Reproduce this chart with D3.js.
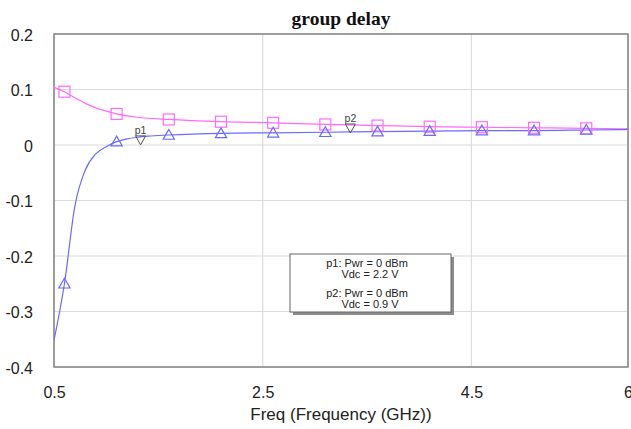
<!DOCTYPE html>
<html>
<head>
<meta charset="utf-8">
<script src="https://cdn.jsdelivr.net/npm/d3@7"></script>
<style>
  html, body { margin: 0; padding: 0; background: #fff; }
  svg { display: block; }
</style>
</head>
<body>
<svg id="chart" width="631" height="429"></svg>
<script>
// Group delay vs frequency, two bias points
const freqBlue = [0.5, 0.6, 0.7, 0.8, 0.9, 1.0, 1.1, 1.2, 1.3, 1.4, 1.6, 2.1, 2.6, 3.1, 3.6, 4.1, 4.6, 5.1, 5.6, 6.0];
const delayBlue = [-0.352, -0.25, -0.11, -0.045, -0.016, -0.003, 0.006, 0.011, 0.014, 0.016, 0.018, 0.021, 0.022, 0.023, 0.024, 0.025, 0.026, 0.026, 0.027, 0.028];

const freqPink = [0.5, 0.6, 0.7, 0.8, 0.9, 1.0, 1.1, 1.3, 1.6, 2.1, 2.6, 3.1, 3.6, 4.1, 4.6, 5.1, 5.6, 6.0];
const delayPink = [0.104, 0.096, 0.085, 0.075, 0.067, 0.061, 0.056, 0.050, 0.046, 0.042, 0.040, 0.037, 0.035, 0.033, 0.032, 0.031, 0.030, 0.029];

// symbol positions along each trace
const markerFreqs = [0.6, 1.1, 1.6, 2.1, 2.6, 3.1, 3.6, 4.1, 4.6, 5.1, 5.6];

const xTicks = [0.5, 2.5, 4.5, 6];
const xTickLabels = ["0.5", "2.5", "4.5", "6"];
const yTicks = [0.2, 0.1, 0, -0.1, -0.2, -0.3, -0.4];
const yTickLabels = ["0.2", "0.1", "0", "-0.1", "-0.2", "-0.3", "-0.4"];

// trace markers: name, frequency, which trace
const markerNames = ["p1", "p2"];
const markerFreq = [1.33, 3.34];
const markerTrace = ["blue", "pink"];

const legendLines = [["p1: Pwr = 0 dBm", "Vdc = 2.2 V"], ["p2: Pwr = 0 dBm", "Vdc = 0.9 V"]];

const blueCol = "#6a6aff";
const pinkCol = "#ff6aff";

const svg = d3.select("#chart");
const m = { left: 54, right: 3, top: 34, bottom: 62 };
const W = 631, H = 429;
const x = d3.scaleLinear().domain([0.5, 6]).range([m.left, W - m.right]);
const y = d3.scaleLinear().domain([-0.4, 0.2]).range([H - m.bottom, m.top]);

// gridlines
const g = svg.append("g");
g.selectAll("line.hg").data(yTicks).join("line")
  .attr("x1", x(0.5)).attr("x2", x(6))
  .attr("y1", d => y(d)).attr("y2", d => y(d))
  .attr("stroke", "#dcdcdc").attr("stroke-width", 1.2);
g.selectAll("line.vg").data(xTicks).join("line")
  .attr("x1", d => x(d)).attr("x2", d => x(d))
  .attr("y1", y(0.2)).attr("y2", y(-0.4))
  .attr("stroke", "#dcdcdc").attr("stroke-width", 1.2);

// frame
svg.append("rect")
  .attr("x", x(0.5)).attr("y", y(0.2))
  .attr("width", x(6) - x(0.5)).attr("height", y(-0.4) - y(0.2))
  .attr("fill", "none").attr("stroke", "#8a8a8a").attr("stroke-width", 1.6);

// axes (labels only, frame drawn above)
const xAxis = d3.axisBottom(x).tickValues(xTicks)
  .tickFormat((d, i) => xTickLabels[i]).tickSize(0).tickPadding(20);
svg.append("g").attr("transform", `translate(0,${y(-0.4)})`).call(xAxis)
  .call(a => a.select(".domain").remove())
  .selectAll("text").attr("font-family", "Liberation Sans, Arial, sans-serif")
  .attr("font-size", 16).attr("fill", "#222");

const yAxis = d3.axisLeft(y).tickValues(yTicks)
  .tickFormat((d, i) => yTickLabels[i]).tickSize(0).tickPadding(21);
svg.append("g").attr("transform", `translate(${x(0.5)},1)`).call(yAxis)
  .call(a => a.select(".domain").remove())
  .selectAll("text").attr("font-family", "Liberation Sans, Arial, sans-serif")
  .attr("font-size", 16).attr("fill", "#222");

// title
svg.append("text").attr("x", 341).attr("y", 25).attr("text-anchor", "middle")
  .attr("font-family", "Liberation Serif, Times New Roman, serif")
  .attr("font-weight", "bold").attr("font-size", 19.5).attr("fill", "#111")
  .text("group delay");

// x axis title
svg.append("text").attr("x", 341).attr("y", 420).attr("text-anchor", "middle")
  .attr("font-family", "Liberation Sans, Arial, sans-serif")
  .attr("font-size", 17).attr("fill", "#222")
  .text("Freq (Frequency (GHz))");

// traces
svg.append("clipPath").attr("id", "clip").append("rect")
  .attr("x", x(0.5)).attr("y", y(0.2))
  .attr("width", x(6) - x(0.5)).attr("height", y(-0.4) - y(0.2));

const blueData = freqBlue.map((f, i) => [f, delayBlue[i]]);
const pinkData = freqPink.map((f, i) => [f, delayPink[i]]);
const line = d3.line().x(d => x(d[0])).y(d => y(d[1])).curve(d3.curveMonotoneX);

const plot = svg.append("g").attr("clip-path", "url(#clip)");
plot.append("path").datum(pinkData).attr("d", line)
  .attr("fill", "none").attr("stroke", pinkCol).attr("stroke-width", 1.2);
plot.append("path").datum(blueData).attr("d", line)
  .attr("fill", "none").attr("stroke", blueCol).attr("stroke-width", 1.2);

function valueAt(data, f) {
  const fs = data.map(d => d[0]);
  const i = d3.bisectLeft(fs, f);
  if (fs[i] === f) return data[i][1];
  const a = data[i - 1], b = data[i];
  return a[1] + (b[1] - a[1]) * (f - a[0]) / (b[0] - a[0]);
}

// pink square symbols
plot.selectAll("rect.sq").data(markerFreqs).join("rect")
  .attr("x", d => x(d) - 5.5).attr("y", d => y(valueAt(pinkData, d)) - 5.5)
  .attr("width", 11).attr("height", 11)
  .attr("fill", "none").attr("stroke", pinkCol).attr("stroke-width", 1.2);

// blue triangle symbols
const tri = d3.symbol().type(d3.symbolTriangle).size(55);
plot.selectAll("path.tri").data(markerFreqs).join("path")
  .attr("transform", d => `translate(${x(d)},${y(valueAt(blueData, d)) + 1})`)
  .attr("d", tri)
  .attr("fill", "none").attr("stroke", blueCol).attr("stroke-width", 1.2);

// named trace markers (downward triangles with label)
markerNames.forEach((name, i) => {
  const data = markerTrace[i] === "blue" ? blueData : pinkData;
  const px = x(markerFreq[i]);
  const py = y(valueAt(data, markerFreq[i]));
  svg.append("path")
    .attr("d", `M${px - 5},${py - 1} L${px + 5},${py - 1} L${px},${py + 8} Z`)
    .attr("fill", "none").attr("stroke", "#555").attr("stroke-width", 1);
  svg.append("text").attr("x", px).attr("y", py - 3).attr("text-anchor", "middle")
    .attr("font-family", "Liberation Sans, Arial, sans-serif")
    .attr("font-size", 10.5).attr("fill", "#444").text(name);
});

// legend box
const lx = 290, ly = 254, lw = 161, lh = 58;
svg.append("rect").attr("x", lx + 3).attr("y", ly + 3).attr("width", lw).attr("height", lh)
  .attr("fill", "#8c8c8c");
svg.append("rect").attr("x", lx).attr("y", ly).attr("width", lw).attr("height", lh)
  .attr("fill", "#fff").attr("stroke", "#666").attr("stroke-width", 1);
legendLines.forEach((pair, i) => {
  const by = ly + 13 + i * 30;
  svg.append("text").attr("x", 367).attr("y", by).attr("text-anchor", "middle")
    .attr("font-family", "Liberation Sans, Arial, sans-serif")
    .attr("font-size", 11).attr("fill", "#222").text(pair[0]);
  svg.append("text").attr("x", 370).attr("y", by + 11).attr("text-anchor", "middle")
    .attr("font-family", "Liberation Sans, Arial, sans-serif")
    .attr("font-size", 11).attr("fill", "#222").text(pair[1]);
});
</script>
</body>
</html>
